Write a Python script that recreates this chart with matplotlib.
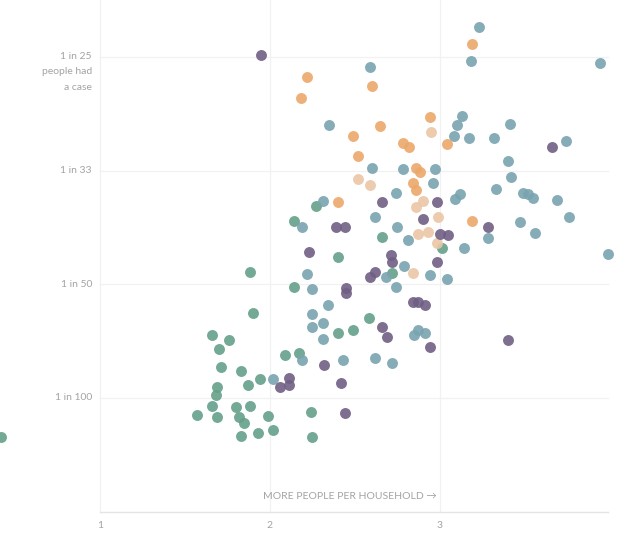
import numpy as np
import matplotlib.pyplot as plt

# household size (x) vs share of people who had a case, in percent (y)
green_x = [0.42, 1.57, 1.66, 1.76, 1.70, 1.71, 1.83, 1.87, 1.94, 1.69, 1.68, 1.66, 1.69, 1.80, 1.88,
           1.82, 1.85, 1.99, 1.83, 1.93, 2.02, 1.90, 1.88, 2.09, 2.17, 2.14, 2.14, 2.27, 2.24, 2.25,
           2.40, 2.49, 2.40, 2.66, 2.58, 3.01, 2.72]
green_y = [0.66, 0.85, 1.55, 1.51, 1.43, 1.27, 1.24, 1.11, 1.17, 1.10, 1.03, 0.93, 0.83, 0.92, 0.93,
           0.83, 0.78, 0.84, 0.67, 0.69, 0.72, 1.75, 2.11, 1.38, 1.40, 1.98, 2.56, 2.69, 0.88, 0.66,
           1.57, 1.60, 2.24, 2.42, 1.70, 2.32, 2.10]

teal_x = [2.19, 2.31, 2.19, 2.02, 2.22, 2.25, 2.34, 2.25, 2.31, 2.25, 2.31, 2.43, 2.62, 2.72, 2.87,
          2.85, 2.91, 2.62, 2.75, 2.81, 2.79, 2.68, 2.74, 2.94, 3.04, 2.74, 2.60, 2.78, 2.97, 2.96,
          3.12, 3.09, 3.14, 3.28, 2.35, 2.59, 3.13, 3.10, 3.08, 3.17, 3.32, 3.41, 3.74, 3.40, 3.42,
          3.33, 3.49, 3.52, 3.55, 3.69, 3.76, 3.47, 3.56, 3.99, 3.23, 3.18, 3.94]
teal_y = [2.50, 2.73, 1.33, 1.17, 2.09, 1.96, 1.82, 1.74, 1.66, 1.62, 1.52, 1.33, 1.35, 1.31, 1.60,
          1.55, 1.57, 2.59, 2.50, 2.39, 2.16, 2.06, 1.98, 2.08, 2.05, 2.80, 3.02, 3.01, 3.01, 2.89,
          2.79, 2.75, 2.32, 2.41, 3.40, 3.91, 3.48, 3.40, 3.30, 3.29, 3.29, 3.41, 3.26, 3.08, 2.94,
          2.84, 2.80, 2.79, 2.76, 2.74, 2.59, 2.55, 2.45, 2.27, 4.26, 3.96, 3.95]

purple_x = [1.95, 2.39, 2.44, 2.23, 2.71, 2.72, 2.66, 2.98, 2.90, 3.00, 3.05, 3.28, 3.66, 2.98, 2.62,
            2.59, 2.45, 2.45, 2.84, 2.87, 2.91, 2.66, 2.69, 2.94, 3.40, 2.32, 2.42, 2.44, 2.06, 2.11,
            2.11]
purple_y = [4.02, 2.50, 2.50, 2.28, 2.26, 2.20, 2.72, 2.72, 2.57, 2.44, 2.43, 2.50, 3.21, 2.20, 2.11,
            2.06, 1.97, 1.92, 1.84, 1.84, 1.82, 1.62, 1.54, 1.45, 1.51, 1.29, 1.13, 0.87, 1.10, 1.18,
            1.11]

orange_x = [2.22, 2.18, 2.60, 2.65, 2.49, 2.78, 2.82, 2.52, 2.94, 3.19, 3.04, 2.86, 2.88, 2.84, 2.86,
            2.40, 3.19]
orange_y = [3.82, 3.64, 3.74, 3.39, 3.30, 3.24, 3.21, 3.13, 3.47, 4.11, 3.23, 3.02, 2.99, 2.89, 2.83,
            2.72, 2.56]

light_x = [2.95, 2.52, 2.59, 2.86, 2.90, 2.99, 2.87, 2.93, 2.98, 2.84]
light_y = [3.34, 2.93, 2.87, 2.68, 2.73, 2.59, 2.44, 2.46, 2.36, 2.10]

y_ticks = [4, 3, 2, 1]
y_labels = ['1 in 25\npeople had\na case', '1 in 33', '1 in 50', '1 in 100']
x_ticks = [1, 2, 3]

plt.rcParams['font.family'] = ['Lato', 'DejaVu Sans']

fig = plt.figure(figsize=(6.28, 5.34), dpi=100)
ax = fig.add_axes([0, 0, 1, 1])
ax.set_xlim(0.412, 4.106)
ax.set_ylim(-0.196, 4.50)
ax.axis('off')

# light grid
grid_c = '#f1f1f1'
for xv in x_ticks:
    ax.plot([xv, xv], [0, 4.5], color=grid_c, lw=0.9, zorder=0)
for yv in y_ticks:
    ax.plot([1, 3.99], [yv, yv], color=grid_c, lw=0.9, zorder=0)
ax.plot([1, 3.99], [0, 0], color='#e4e4e4', lw=1.0, zorder=0)

txt_c = '#a3a3a3'
for yv, lab in zip(y_ticks, y_labels):
    if '\n' in lab:
        ax.text(0.953, yv + 0.045, lab, ha='right', va='top', fontsize=7.5,
                color=txt_c, linespacing=1.95)
    else:
        ax.text(0.953, yv, lab, ha='right', va='center', fontsize=7.5, color=txt_c)

for xv in x_ticks:
    ax.text(xv, -0.117, str(xv), ha='center', va='center', fontsize=7.5, color=txt_c)
ax.text(2.47, 0.13, 'MORE PEOPLE PER HOUSEHOLD \u2192', ha='center', va='center',
        fontsize=7.5, color=txt_c)

s = 62
ax.scatter(green_x, green_y, s=s, color='#64a08a', alpha=0.9, lw=0, zorder=3)
ax.scatter(teal_x, teal_y, s=s, color='#79a4b0', alpha=0.9, lw=0, zorder=3)
ax.scatter(light_x, light_y, s=s, color='#ecc6a5', alpha=0.9, lw=0, zorder=3)
ax.scatter(orange_x, orange_y, s=s, color='#eba86a', alpha=0.9, lw=0, zorder=3)
ax.scatter(purple_x, purple_y, s=s, color='#705f84', alpha=0.9, lw=0, zorder=3)

fig.savefig('out.png', dpi=100, facecolor='white')
